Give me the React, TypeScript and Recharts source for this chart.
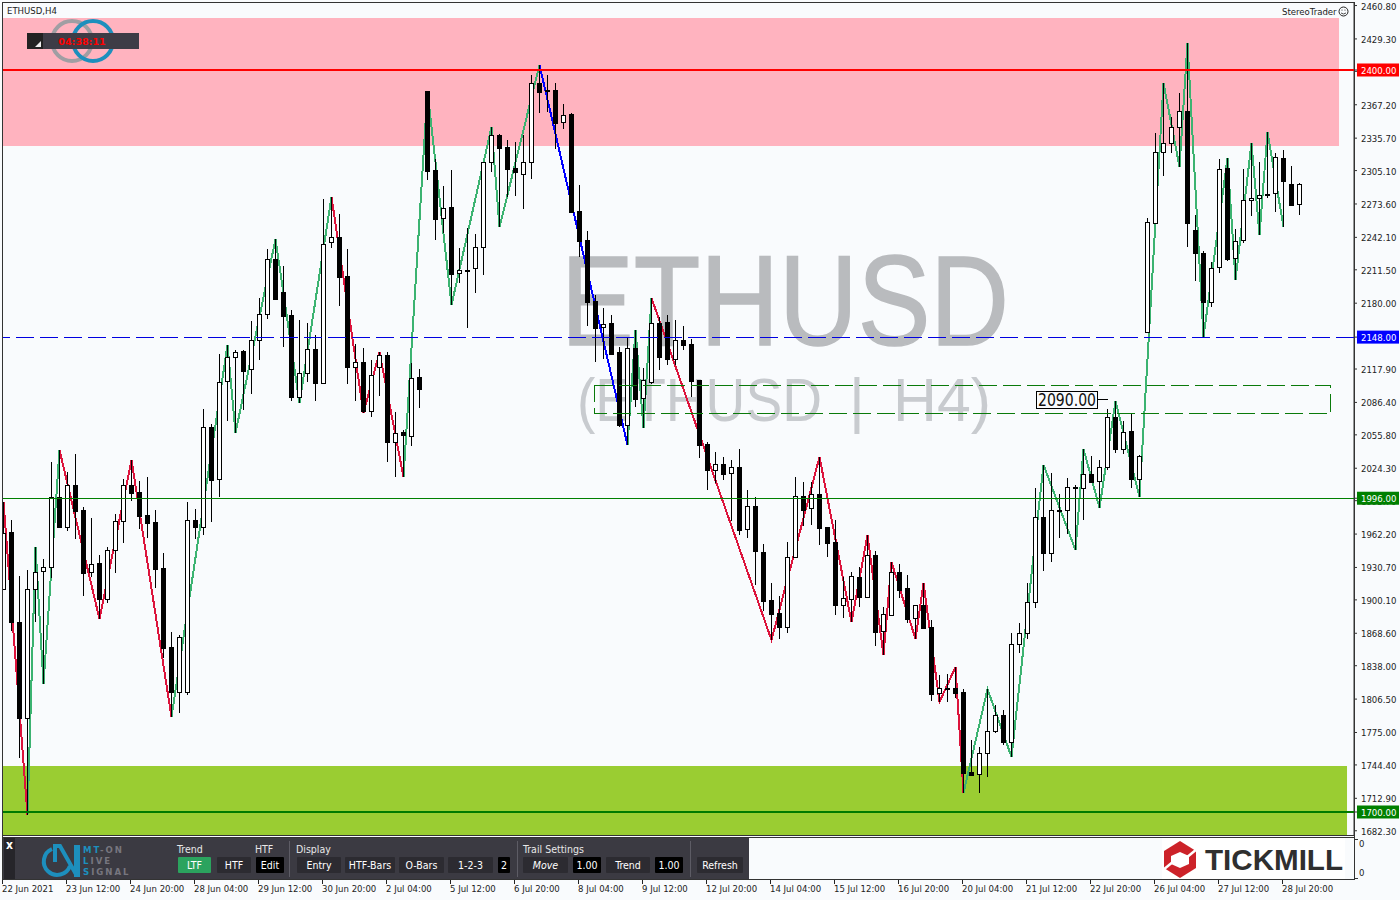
import React from 'react';
import { ComposedChart, Bar, Line, XAxis, YAxis, ReferenceArea, ReferenceLine } from 'recharts';

const opens = [
  1910.3, 1964.1, 1879.2, 1788.6, 1910.3, 1927.3, 1931.1, 1997.1, 1968.8, 2008.5,
  1984.9, 1926.4, 1934.9, 1900.9, 1947.1, 1974.5, 2008.5, 2001.9, 1980.2, 1973.5,
  1930.2, 1855.6, 1813.2, 1813.2, 1975.4, 1968.8, 2063.2, 2014.2, 2106.6, 2129.2,
  2134.9, 2117.9, 2145.3, 2169.8, 2221.7, 2190.6, 2168.8, 2091.5, 2114.1, 2136.8,
  2104.7, 2237.7, 2242.5, 2205.6, 2119.8, 2124.5, 2078.3, 2119.8, 2131.1, 2049.1,
  2058.5, 2054.7, 2110.4, 2380.2, 2305.7, 2260.4, 2270.7, 2208.5, 2210.4, 2213.2,
  2233, 2313.2, 2338.7, 2327.3, 2307.5, 2301.9, 2313.2, 2387.7, 2381.1, 2381.1,
  2350.9, 2358.5, 2267, 2239.6, 2182.1, 2157.5, 2161.3, 2134, 2065.1, 2137.7,
  2090.5, 2105.7, 2161.3, 2162.3, 2127.4, 2145.3, 2141.5, 2107.6, 2047.2, 2022.7,
  2028.3, 2019.8, 2025.4, 1966.9, 1988.7, 1945.2, 1900, 1887.7, 1874.5, 1940.5,
  1998.1, 1986.8, 2000, 1968.8, 1954.7, 1895.3, 1900.9, 1921.7, 1902.8, 1942.4,
  1870.7, 1885.8, 1926.4, 1911.3, 1883, 1895.3, 1874.5, 1812.2, 1816, 1817,
  1813.2, 1737.7, 1735.8, 1755.6, 1776.4, 1791.5, 1766, 1858.4, 1868.8, 1898.1,
  1978.3, 1944.3, 1984, 1984.9, 2005.6, 2005.6, 2018.8, 2012.3, 2025.4, 2072.6,
  2042.5, 2059.4, 2014.2, 2152.8, 2255.6, 2322.6, 2331.1, 2346.2, 2361.3, 2249.1,
  2227.3, 2181.1, 2214.1, 2307.5, 2222.6, 2239.6, 2277.4, 2279.2, 2282.5, 2284,
  2317, 2292.4, 2273.5,
];

const closes = [
  1963.5, 1879.2, 1788.6, 1910.3, 1926.4, 1931.1, 1997.1, 1968.8, 2008.5, 1984,
  1925.5, 1933.9, 1900.9, 1947.1, 1974.5, 2008.5, 2001, 1979.2, 1972.6, 1929.2,
  1854.7, 1813.2, 1865, 1975.4, 1968.8, 2063.2, 2013.2, 2105.7, 2129.2, 2134,
  2116, 2145.3, 2169.8, 2221.7, 2183.9, 2167.9, 2091.5, 2114.1, 2136.8, 2104.7,
  2235.8, 2242.5, 2204.7, 2119.8, 2124.5, 2078.3, 2112.3, 2131.1, 2049.1, 2057.5,
  2055.6, 2109.4, 2099, 2304.7, 2259.4, 2269.8, 2207.5, 2211.3, 2211.3, 2233,
  2313.2, 2338.7, 2326.4, 2306.6, 2303.8, 2313.2, 2387.7, 2379.2, 2380.2, 2350,
  2357.5, 2266, 2238.7, 2181.1, 2156.6, 2160.4, 2132, 2065.1, 2137.7, 2089.6,
  2107.6, 2161.3, 2129.2, 2127.4, 2145.3, 2140.6, 2106.6, 2046.2, 2022.7, 2028.3,
  2018.8, 2025.4, 1966, 1988.7, 1946.2, 1899, 1886.8, 1874.5, 1940.5, 1998.1,
  1984.9, 2000, 1967.9, 1953.7, 1895.3, 1901.9, 1922.6, 1902.8, 1942.4, 1869.8,
  1886.8, 1926.4, 1909.4, 1882, 1895.3, 1873.6, 1811.3, 1817, 1817, 1812.2,
  1736.8, 1734.9, 1755.6, 1776.4, 1791.5, 1766, 1858.4, 1868.8, 1898.1, 1978.3,
  1944.3, 1984.9, 1984.9, 2006.6, 2006.6, 2018.8, 2011.3, 2025.4, 2072.6, 2042.5,
  2058.5, 2014.2, 2035.8, 2256.6, 2322.6, 2331.1, 2346.2, 2361.3, 2255.6, 2227.3,
  2181.1, 2213.2, 2306.6, 2221.7, 2238.7, 2277.4, 2279.2, 2282.1, 2283, 2317.9,
  2295.3, 2272.6, 2292.4,
];

const highs = [
  1992.4, 1975.4, 1922.6, 1928.3, 1950, 1938.6, 2030.2, 2041.5, 2020.8, 2037.7,
  1987.7, 1977.3, 1942.4, 1950, 1981.1, 2014.2, 2032.1, 2012.3, 2016, 1984.9,
  1944.3, 1869.8, 1866.9, 1992.4, 1985.8, 2080.2, 2066, 2132.1, 2140.6, 2135.9,
  2135.9, 2163.2, 2184.9, 2231.1, 2240.6, 2215.1, 2173.6, 2164.2, 2161.3, 2150,
  2278.3, 2280.2, 2264.1, 2231.1, 2141.5, 2137.7, 2126.4, 2133.9, 2133.9, 2077.4,
  2060.4, 2123.6, 2117.9, 2380.2, 2316, 2290.5, 2305.7, 2232, 2250.9, 2245.3,
  2313.2, 2346.2, 2339.6, 2334, 2332.1, 2338.7, 2395.3, 2404.7, 2395.3, 2387.7,
  2367.9, 2359.4, 2291.5, 2248.1, 2187.7, 2175.5, 2168.8, 2138.7, 2148.1, 2154.7,
  2118.9, 2184.9, 2167, 2168.8, 2164.2, 2158.5, 2146.2, 2107.6, 2049.1, 2039.6,
  2034.9, 2032.1, 2042.5, 2003.8, 1997.1, 1952.8, 1916, 1903.8, 1954.7, 2016,
  2011.3, 2011.3, 2034.9, 1968.8, 1975.4, 1921.7, 1926.4, 1931.1, 1961.3, 1946.2,
  1893.4, 1935.8, 1933.9, 1923.5, 1895.3, 1916, 1881.1, 1829.2, 1830.2, 1836.8,
  1816, 1767.9, 1761.3, 1816, 1800.9, 1796.2, 1868.8, 1878.3, 1916, 2005.7,
  2027.4, 2019.8, 1999.9, 2015, 2008.5, 2042.5, 2035.8, 2032.1, 2080.2, 2087.7,
  2068.9, 2076.4, 2036.8, 2260.4, 2340.6, 2387.7, 2355.6, 2378.3, 2425.4, 2263.2,
  2229.2, 2218.9, 2316, 2316.9, 2250, 2306.6, 2331.1, 2313.2, 2341.5, 2321.7,
  2324.5, 2309.4, 2293.4,
];

const lows = [
  1909.4, 1870.7, 1750.9, 1697.2, 1879.2, 1820.7, 1920.7, 1968.8, 1965.1, 1957.5,
  1903.8, 1921.7, 1882, 1897.2, 1925.5, 1953.7, 1993.4, 1966.9, 1958.5, 1911.3,
  1845.3, 1789.6, 1793.4, 1810.3, 1957.5, 1961.3, 1973.5, 1997.1, 2068.9, 2057.5,
  2079.3, 2094.3, 2126.4, 2165.1, 2183, 2138.7, 2087.7, 2085.8, 2105.7, 2087.7,
  2104.7, 2232, 2177.3, 2103.8, 2087.7, 2076.4, 2072.6, 2092.4, 2030.2, 2016,
  2016, 2045.3, 2081.1, 2296.2, 2239.6, 2246.2, 2178.3, 2199, 2156.6, 2189.6,
  2206.6, 2303.8, 2251.8, 2280.2, 2281.1, 2268.8, 2297.1, 2359.4, 2360.4, 2325.5,
  2344.3, 2266, 2223.5, 2158.5, 2124.5, 2127.4, 2131.1, 2063.2, 2046.2, 2082,
  2062.3, 2103.8, 2117, 2121.7, 2121.7, 2135.9, 2091.5, 2033.9, 2003.8, 2010.4,
  2013.2, 1974.5, 1961.3, 1958.5, 1914.1, 1889.6, 1862.2, 1863.2, 1868.8, 1940.5,
  1969.8, 1970.7, 1951.8, 1940.5, 1885.8, 1883, 1879.2, 1893.4, 1902.8, 1856.6,
  1848.1, 1885.8, 1901.9, 1878.3, 1863.2, 1872.6, 1804.7, 1803.7, 1803.7, 1807.5,
  1717.9, 1733.9, 1717.9, 1733, 1774.5, 1763.2, 1751.9, 1850, 1863.2, 1892.4,
  1927.3, 1935.8, 1958.5, 1962.2, 1947.1, 1975.4, 2011.3, 1986.8, 2022.7, 2038.7,
  2037.7, 2005.7, 1997.1, 2151.9, 2255.6, 2300, 2321.7, 2308.5, 2233, 2200.9,
  2148.1, 2176.4, 2208.5, 2219.8, 2201.9, 2236.8, 2262.2, 2244.3, 2279.2, 2266,
  2251.8, 2272.6, 2263.2,
];

// Zigzag runs: bar numbers of the pivots, alternating high / low from "start"
const RED = '#dc143c';
const GREEN = '#3cb371';
const BLUE = '#0000ff';
const zigzagRuns = [
  { color: RED, start: 'h', bars: [0, 3] },
  { color: GREEN, start: 'l', bars: [3, 4, 5, 7] },
  { color: RED, start: 'h', bars: [7, 12, 16, 21] },
  { color: GREEN, start: 'l', bars: [21, 28, 29, 34, 37, 41] },
  { color: RED, start: 'h', bars: [41, 45, 47, 50] },
  { color: GREEN, start: 'l', bars: [50, 53, 56, 61, 62, 67] },
  { color: BLUE, start: 'h', bars: [67, 78] },
  { color: GREEN, start: 'l', bars: [78, 79, 80, 81] },
  { color: RED, start: 'h', bars: [81, 96, 102, 106, 108, 110, 111, 114, 115, 117, 119, 120] },
  { color: GREEN, start: 'l', bars: [120, 123, 126, 130, 134, 135, 137, 139, 142, 145, 147, 148, 150, 153, 154, 156, 157, 158, 160] },
];

const priceTicks = [
  2460.8, 2429.3, 2398.7, 2367.2, 2335.7, 2305.1, 2273.6, 2242.1, 2211.5, 2180, 2117.9, 2086.4,
  2055.8, 2024.3, 1993.7, 1962.2, 1930.7, 1900.1, 1868.6, 1838, 1806.5, 1775, 1744.4, 1712.9, 1682.3,
  2400, 2148, 1996, 1700,
];
const priceTags: Record<number, string> = { 2400: '#ff0000', 2148: '#0000ff', 1996: '#008000', 1700: '#008000' };

const timeTicks = [0, 8, 16, 24, 32, 40, 48, 56, 64, 72, 80, 88, 96, 104, 112, 120, 128, 136, 144, 152, 160];
const timeLabels = [
  '22 Jun 2021', '23 Jun 12:00', '24 Jun 20:00', '28 Jun 04:00', '29 Jun 12:00', '30 Jun 20:00', '2 Jul 04:00',
  '5 Jul 12:00', '6 Jul 20:00', '8 Jul 04:00', '9 Jul 12:00', '12 Jul 20:00', '14 Jul 04:00', '15 Jul 12:00',
  '16 Jul 20:00', '20 Jul 04:00', '21 Jul 12:00', '22 Jul 20:00', '26 Jul 04:00', '27 Jul 12:00', '28 Jul 20:00',
];

const chartData: any[] = opens.map((open, i) => ({
  i,
  open,
  close: closes[i],
  high: highs[i],
  low: lows[i],
  range: [lows[i], highs[i]],
}));
zigzagRuns.forEach((run, r) => {
  run.bars.forEach((bar, k) => {
    const isHigh = (k % 2 === 0) === (run.start === 'h');
    chartData[bar][`z${r}`] = isHigh ? highs[bar] : lows[bar];
  });
});

const AXIS_FONT = '"DejaVu Sans Condensed", "DejaVu Sans", sans-serif';
const BG = '#f9fbfd';

// candle drawn from the pixel box the Bar gets for [low, high]
const Candle = (props: any) => {
  const { x, y, width, height, payload } = props;
  const cx = Math.floor(x + width / 2) + 0.5;
  const perUnit = height / (payload.high - payload.low || 1);
  const yOpen = y + (payload.high - payload.open) * perUnit;
  const yClose = y + (payload.high - payload.close) * perUnit;
  const top = Math.round(Math.min(yOpen, yClose));
  const bottom = Math.round(Math.max(yOpen, yClose));
  const up = payload.close >= payload.open;
  return (
    <g shapeRendering="crispEdges">
      <line x1={cx} x2={cx} y1={Math.round(y)} y2={Math.round(y + height)} stroke="#000" strokeWidth={1} />
      {bottom - top < 1 ? (
        <line x1={cx - 2.5} x2={cx + 2.5} y1={top + 0.5} y2={top + 0.5} stroke="#000" strokeWidth={1} />
      ) : up ? (
        <rect x={cx - 2} y={top + 0.5} width={4} height={bottom - top} fill="#fff" stroke="#000" strokeWidth={1} />
      ) : (
        <rect x={cx - 2.5} y={top} width={5} height={bottom - top + 1} fill="#000" />
      )}
    </g>
  );
};

const PriceTick = (props: any) => {
  const { x, y, payload } = props;
  const tag = priceTags[payload.value];
  return (
    <g>
      {tag && <rect x={x - 2} y={y - 6.5} width={42} height={13} fill={tag} />}
      <text x={x + 2} y={y + 4} fontSize={9.5} fontFamily={AXIS_FONT} fill={tag ? '#fff' : '#222'}>
        {payload.value.toFixed(2)}
      </text>
    </g>
  );
};

const TimeTick = (props: any) => {
  const { x, payload } = props;
  const idx = timeTicks.indexOf(payload.value);
  return (
    <g>
      <line x1={x - 1} x2={x - 1} y1={880} y2={884} stroke="#222" strokeWidth={1} shapeRendering="crispEdges" />
      <text x={x - 1.5} y={892} fontSize={9.5} fontFamily={AXIS_FONT} fill="#222">
        {timeLabels[idx]}
      </text>
    </g>
  );
};

const panelText: React.CSSProperties = {
  position: 'absolute',
  fontFamily: AXIS_FONT,
  fontSize: 10.5,
  color: '#fff',
  whiteSpace: 'nowrap',
};

const PanelButton = ({ x, w, label, bg, italic }: { x: number; w: number; label: string; bg: string; italic?: boolean }) => (
  <div
    style={{
      ...panelText,
      left: x,
      top: 857,
      width: w,
      height: 16,
      lineHeight: '16px',
      background: bg,
      textAlign: 'center',
      borderRadius: 1,
      fontStyle: italic ? 'italic' : 'normal',
    }}
  >
    {label}
  </div>
);

const PanelLabel = ({ x, label }: { x: number; label: string }) => (
  <div style={{ ...panelText, left: x, top: 843, lineHeight: '13px', color: '#e8e8e8' }}>{label}</div>
);

const Watermark = () => (
  <svg width={1400} height={900} style={{ position: 'absolute', left: 0, top: 0 }}>
    <text
      x={561}
      y={345}
      fontFamily="Liberation Sans"
      fontSize={128}
      fill="#b9bbbe"
      stroke="#b9bbbe"
      strokeWidth={1.5}
      textLength={448}
      lengthAdjust="spacingAndGlyphs"
    >
      ETHUSD
    </text>
    <text y={421} fontFamily="Liberation Sans" fontSize={61} fill="#c8cbcf">
      <tspan x={577} textLength={245} lengthAdjust="spacingAndGlyphs">(ETHUSD</tspan>
      <tspan x={849}>|</tspan>
      <tspan x={893} textLength={98} lengthAdjust="spacingAndGlyphs">H4)</tspan>
    </text>
  </svg>
);

const TopOverlay = () => (
  <svg width={1400} height={900} style={{ position: 'absolute', left: 0, top: 0, pointerEvents: 'none' }}>
    {/* frame */}
    <rect x={0} y={0} width={2} height={880} fill={BG} />
    <rect x={2.5} y={2.5} width={1352} height={877} fill="none" stroke="#333" strokeWidth={1} shapeRendering="crispEdges" />
    <line x1={2} x2={1355} y1={835.5} y2={835.5} stroke="#333" shapeRendering="crispEdges" />
    <line x1={2} x2={1355} y1={837.5} y2={837.5} stroke="#333" shapeRendering="crispEdges" />

    {/* logo rings and countdown */}
    <circle cx={72} cy={41} r={20} fill="none" stroke="#a09ea3" strokeWidth={4} />
    <circle cx={93} cy={41} r={20} fill="none" stroke="#1d8fbd" strokeWidth={4} />
    <rect x={27} y={33} width={112} height={16} fill="#3e3c46" />
    <rect x={27} y={33} width={16} height={16} fill="#222" />
    <polygon points="35,47 41,47 41,41" fill="#eee" />
    <text x={82} y={44.5} textAnchor="middle" fontSize={9.5} fontWeight="bold" fontFamily="DejaVu Sans" fill="#ff0000">
      04:38:11
    </text>

    <text x={7} y={14} fontSize={9.5} fontFamily={AXIS_FONT} fill="#222">ETHUSD,H4</text>
    <text x={1282} y={15} fontSize={9.5} fontFamily={AXIS_FONT} fill="#222">StereoTrader</text>
    <circle cx={1343.5} cy={11.5} r={4.5} fill="none" stroke="#222" strokeWidth={1} />
    <path d="M1341 13 q2.5 2 5 0" fill="none" stroke="#222" strokeWidth={0.8} />
    <circle cx={1342} cy={10} r={0.6} fill="#222" />
    <circle cx={1345} cy={10} r={0.6} fill="#222" />

    {/* price label box on the dashed rectangle */}
    <rect x={1036.5} y={391.5} width={61} height={17} fill={BG} stroke="#000" shapeRendering="crispEdges" />
    <line x1={1098} x2={1108} y1={399.5} y2={399.5} stroke="#000" shapeRendering="crispEdges" />
    <text x={1038} y={406} fontSize={17} fontFamily="DejaVu Sans" fill="#111" textLength={58} lengthAdjust="spacingAndGlyphs">
      2090.00
    </text>

    {/* sub window */}
    <rect x={1162} y={838} width={183} height={41} fill="#fff" />
    <polygon points="1180,841 1196,851 1196,868 1180,878 1164,868 1164,851" fill="#cc2229" />
    <polygon points="1180,852 1189,856 1189,864 1180,868 1171,864 1171,856" fill="#fff" />
    <line x1={1186} x2={1197} y1={858} y2={849} stroke="#fff" strokeWidth={2.5} />
    <line x1={1163} x2={1174} y1={870} y2={861} stroke="#fff" strokeWidth={2.5} />
    <text x={1205} y={870} fontFamily="Liberation Sans" fontWeight="bold" fontSize={30} fill="#2f2f2f" textLength={138} lengthAdjust="spacingAndGlyphs">
      TICKMILL
    </text>
    <line x1={1354.5} x2={1354.5} y1={836} y2={880} stroke="#333" shapeRendering="crispEdges" />
    <line x1={1355} x2={1358} y1={839.5} y2={839.5} stroke="#333" shapeRendering="crispEdges" />
    <line x1={1355} x2={1358} y1={878.5} y2={878.5} stroke="#333" shapeRendering="crispEdges" />
    <text x={1359} y={847} fontSize={9.5} fontFamily={AXIS_FONT} fill="#222">0</text>
    <text x={1359} y={876} fontSize={9.5} fontFamily={AXIS_FONT} fill="#222">0</text>

    {/* signal logo in the panel */}
    <path d="M52 849 A13.5 13.5 0 1 0 70 866" fill="none" stroke="#1d8fbd" strokeWidth={4} />
    <path d="M55 862 L55 846 L60 846 L77 876" fill="none" stroke="#1d8fbd" strokeWidth={4} />
    <rect x={74} y={845} width={6} height={32} fill="#1d8fbd" />
  </svg>
);

const signalLine: React.CSSProperties = {
  ...panelText,
  left: 83,
  fontSize: 9.5,
  lineHeight: '11px',
  fontWeight: 'bold',
  letterSpacing: 2,
  color: '#77767f',
};

const BottomPanel = () => (
  <>
    <div style={{ position: 'absolute', left: 3, top: 838, width: 746, height: 42, background: '#3b3a42' }} />
    <div style={{ position: 'absolute', left: 4, top: 838, width: 11, height: 41, background: '#26252a' }} />
    <div style={{ ...panelText, left: 6, top: 839, fontWeight: 'bold', fontSize: 12, lineHeight: '12px' }}>x</div>
    {[289, 517, 690].map((x) => (
      <div key={x} style={{ position: 'absolute', left: x, top: 841, width: 1, height: 36, background: '#5d5c65' }} />
    ))}
    <div style={{ ...signalLine, top: 844 }}><span style={{ color: '#1d8fbd' }}>MT</span>-ON</div>
    <div style={{ ...signalLine, top: 855 }}><span style={{ color: '#1d8fbd' }}>L</span>IVE</div>
    <div style={{ ...signalLine, top: 866 }}><span style={{ color: '#1d8fbd' }}>S</span>IGNAL</div>
    <PanelLabel x={177} label="Trend" />
    <PanelLabel x={255} label="HTF" />
    <PanelLabel x={296} label="Display" />
    <PanelLabel x={523} label="Trail Settings" />
    <PanelButton x={178} w={33} label="LTF" bg="#2ba35e" />
    <PanelButton x={217} w={34} label="HTF" bg="#2c2b31" />
    <PanelButton x={256} w={28} label="Edit" bg="#000" />
    <PanelButton x={297} w={44} label="Entry" bg="#2c2b31" />
    <PanelButton x={345} w={50} label="HTF-Bars" bg="#2c2b31" />
    <PanelButton x={399} w={45} label="O-Bars" bg="#2c2b31" />
    <PanelButton x={448} w={45} label="1-2-3" bg="#2c2b31" />
    <PanelButton x={498} w={12} label="2" bg="#000" />
    <PanelButton x={523} w={45} label="Move" bg="#2c2b31" italic />
    <PanelButton x={573} w={28} label="1.00" bg="#000" />
    <PanelButton x={606} w={44} label="Trend" bg="#2c2b31" />
    <PanelButton x={655} w={28} label="1.00" bg="#000" />
    <PanelButton x={697} w={46} label="Refresh" bg="#2c2b31" />
  </>
);

export default function App() {
  return (
    <div style={{ position: 'absolute', left: 0, top: 0, width: 1400, height: 900, background: BG, overflow: 'hidden' }}>
      <Watermark />
      <div style={{ position: 'absolute', left: 0, top: 0 }}>
        <ComposedChart width={1400} height={900} data={chartData} margin={{ top: 3, right: 0, bottom: 0, left: 0 }}>
          <XAxis
            dataKey="i"
            type="number"
            domain={[-0.4375, 168.8125]}
            allowDataOverflow
            ticks={timeTicks}
            interval={0}
            height={65}
            axisLine={false}
            tickLine={false}
            tick={<TimeTick />}
          />
          <YAxis
            orientation="right"
            type="number"
            width={46}
            domain={[1678.3, 2463.2]}
            allowDataOverflow
            ticks={priceTicks}
            interval={0}
            stroke="#333"
            tickSize={3}
            tick={<PriceTick />}
          />
          <ReferenceArea x1={-0.06} x2={166.94} y1={2328.3} y2={2449} fill="#ffb3bf" fillOpacity={1} stroke="none" />
          <ReferenceArea x1={-0.06} x2={167.94} y1={1678.3} y2={1743.4} fill="#9acd32" fillOpacity={1} stroke="none" />
          {zigzagRuns.map((run, r) => (
            <Line
              key={r}
              dataKey={`z${r}`}
              type="linear"
              stroke={run.color}
              strokeWidth={2}
              connectNulls
              dot={false}
              activeDot={false}
              isAnimationActive={false}
              shapeRendering="crispEdges"
            />
          ))}
          <Bar dataKey="range" barSize={6} shape={<Candle />} isAnimationActive={false} zIndex={500} />
          <ReferenceArea
            x1={73.9}
            x2={165.9}
            y1={2075.9}
            y2={2102.3}
            fill="none"
            fillOpacity={0}
            stroke="#0a7a0a"
            strokeDasharray="18 6"
            shapeRendering="crispEdges"
            zIndex={600}
          />
          <ReferenceLine y={2400} stroke="#ff0000" strokeWidth={2} isFront zIndex={600} shapeRendering="crispEdges" />
          <ReferenceLine y={2148} stroke="#0000e0" strokeDasharray="18 6" isFront zIndex={600} shapeRendering="crispEdges" />
          <ReferenceLine y={1996} stroke="#008000" isFront zIndex={600} shapeRendering="crispEdges" />
          <ReferenceLine y={1700} stroke="#007a00" strokeWidth={2} isFront zIndex={600} shapeRendering="crispEdges" />
        </ComposedChart>
      </div>
      <BottomPanel />
      <TopOverlay />
    </div>
  );
}
